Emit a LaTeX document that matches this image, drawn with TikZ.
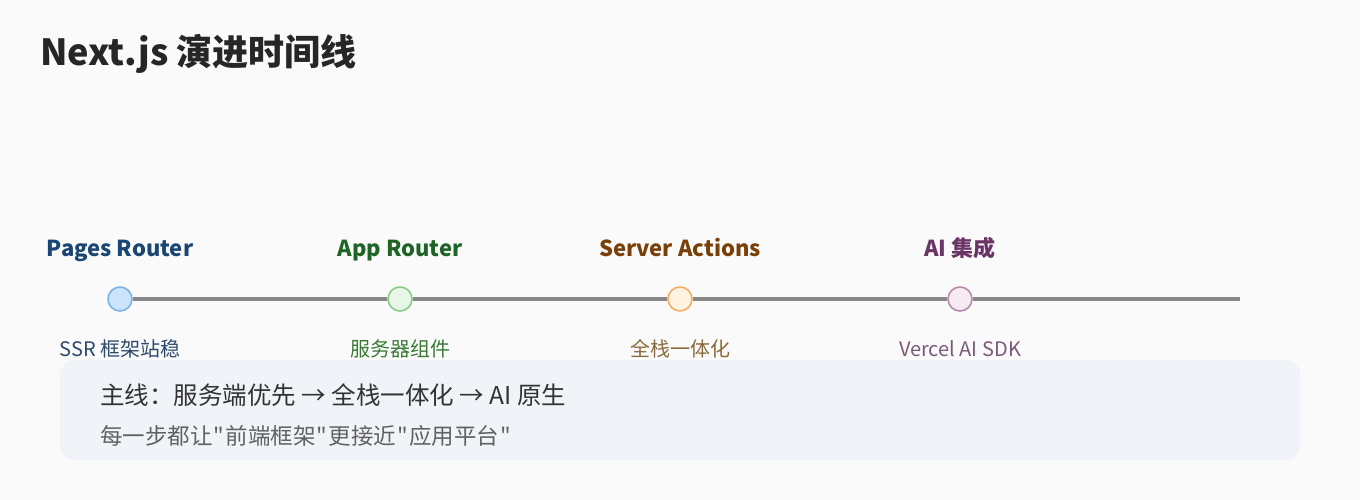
\documentclass[tikz,border=0pt]{standalone}
\usepackage{fontspec}
\setmainfont{Noto Sans CJK SC}
\newfontfamily\plainq{Noto Sans CJK SC}
\newcommand{\qq}{\kern1.2pt"\kern1.2pt}
\begin{document}
\begin{tikzpicture}[x=1pt,y=-1pt,
  evt/.style={font=\bfseries\fontsize{22}{26}\selectfont, anchor=base},
  sub/.style={font=\fontsize{20}{24}\selectfont, anchor=base},
  dot/.style={circle, minimum size=24pt, inner sep=0pt, line width=1.6pt}]
\definecolor{bg}{HTML}{FAFAFA}
\definecolor{boxbg}{HTML}{F0F3F8}
\definecolor{lg}{HTML}{888888}
\definecolor{c1}{HTML}{1A4673}\definecolor{c1s}{HTML}{2E4A6B}\definecolor{c1f}{HTML}{CCE4FB}\definecolor{c1d}{HTML}{7DB4E6}
\definecolor{c2}{HTML}{1E6424}\definecolor{c2s}{HTML}{3A7A34}\definecolor{c2f}{HTML}{E8F6E8}\definecolor{c2d}{HTML}{88CC88}
\definecolor{c3}{HTML}{784008}\definecolor{c3s}{HTML}{8A6A3A}\definecolor{c3f}{HTML}{FFF2E0}\definecolor{c3d}{HTML}{EEB064}
\definecolor{c4}{HTML}{6A3466}\definecolor{c4s}{HTML}{7A5A78}\definecolor{c4f}{HTML}{F6EAF3}\definecolor{c4d}{HTML}{B88AAE}
\fill[bg] (0,0) rectangle (1360,500);
\useasboundingbox (0,0) rectangle (1360,500);
\node[anchor=base west, inner sep=0pt, font=\bfseries\fontsize{36}{40}\selectfont, text=black!85] (title) at (40,66) {Next.js 演进时间线};
\coordinate (end) at (1240,299);
\node[dot, draw=c1d, fill=c1f] (p1) at (120,299) {};
\node[dot, draw=c2d, fill=c2f] (p2) at (400,299) {};
\node[dot, draw=c3d, fill=c3f] (p3) at (680,299) {};
\node[dot, draw=c4d, fill=c4f] (p4) at (960,299) {};
\draw[lg, line width=4pt] (p1.east) -- (p2.west) (p2.east) -- (p3.west) (p3.east) -- (p4.west) (p4.east) -- (end);
\node[evt, text=c1] (l1) at (120,256) {Pages Router};
\node[evt, text=c2] (l2) at (400,256) {App Router};
\node[evt, text=c3] (l3) at (680,256) {Server Actions};
\node[evt, text=c4] (l4) at (960,256) {AI 集成};
\node[sub, text=c1s] (s1) at (120,356) {SSR 框架站稳};
\node[sub, text=c2s] (s2) at (400,356) {服务器组件};
\node[sub, text=c3s] (s3) at (680,356) {全栈一体化};
\node[sub, text=c4s] (s4) at (960,356) {Vercel AI SDK};
\node[draw=none, fill=boxbg, rounded corners=14pt, minimum width=1240pt, minimum height=100pt, anchor=north west] (box) at (60,360) {};
\node[anchor=base west, inner sep=0pt, font=\fontsize{24.5}{28}\selectfont, text=black!80] (m1) at (100,404) {主线：服务端优先 → 全栈一体化 → AI 原生};
\node[anchor=base west, inner sep=0pt, font=\plainq\fontsize{22.5}{26}\selectfont, text=black!62] (m2) at (100,444) {每一步都让\qq 前端框架\qq 更接近\qq 应用平台\kern1.2pt"};
\end{tikzpicture}
\end{document}
